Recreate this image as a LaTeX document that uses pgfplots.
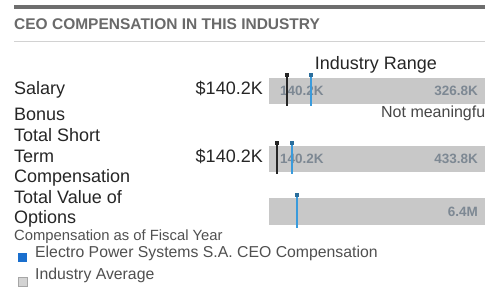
\documentclass[border=0pt]{standalone}
\usepackage{pgfplots}
\pgfplotsset{compat=1.18}
\usepackage{fontspec}
\setmainfont{Liberation Sans}
\definecolor{topline}{HTML}{6E6E6E}
\definecolor{thinline}{HTML}{D2D2D2}
\definecolor{titlec}{HTML}{6A6A6A}
\definecolor{labc}{HTML}{262626}
\definecolor{barg}{HTML}{C8C8C8}
\definecolor{bartxt}{HTML}{7D8893}
\definecolor{mblue}{HTML}{3A9BDC}
\definecolor{mbluecap}{HTML}{2B6E9C}
\definecolor{legblue}{HTML}{1A6FCE}
\definecolor{subc}{HTML}{505050}
\newcommand{\fs}[1]{\fontsize{#1}{#1}\selectfont}
\begin{document}
\begin{tikzpicture}
\path[clip, use as bounding box] (0,0) rectangle (485pt,288pt);
\fill[white] (0,0) rectangle (485pt,288pt);
\begin{axis}[at={(0,0)}, anchor=south west, scale only axis,
  width=485pt, height=288pt, xmin=0, xmax=485, ymin=0, ymax=288,
  y dir=reverse, axis lines=none, clip=false]
% rules
\addplot[topline, line width=4pt] coordinates {(14,7) (490,7)};
\addplot[thinline, line width=1pt] coordinates {(14,41.5) (490,41.5)};
% industry range bars
\addplot[fill=barg, draw=none] coordinates {(269,78) (490,78) (490,104) (269,104)} -- cycle;
\addplot[fill=barg, draw=none] coordinates {(269,146.5) (490,146.5) (490,172) (269,172)} -- cycle;
\addplot[fill=barg, draw=none] coordinates {(269,198) (490,198) (490,225) (269,225)} -- cycle;
% bar texts
\node[anchor=base west, text=bartxt, font=\fs{13.5}\bfseries, inner sep=0] at (axis cs:280,96) {140.2K};
\node[anchor=base east, text=bartxt, font=\fs{13.5}\bfseries, inner sep=0] at (axis cs:478,96) {326.8K};
\node[anchor=base west, text=bartxt, font=\fs{13.5}\bfseries, inner sep=0] at (axis cs:280,164) {140.2K};
\node[anchor=base east, text=bartxt, font=\fs{13.5}\bfseries, inner sep=0] at (axis cs:478,164) {433.8K};
\node[anchor=base east, text=bartxt, font=\fs{13.5}\bfseries, inner sep=0] at (axis cs:478,216.5) {6.4M};
% markers: CEO (black) and industry average (blue)
\addplot[labc, line width=1.6pt] coordinates {(287,74.5) (287,106)};
\addplot[mblue, line width=1.6pt] coordinates {(311,74.5) (311,106)};
\addplot[labc, line width=1.6pt] coordinates {(277,142.5) (277,174)};
\addplot[mblue, line width=1.6pt] coordinates {(292,142.5) (292,174)};
\addplot[mblue, line width=1.6pt] coordinates {(297,194) (297,228)};
\addplot[only marks, mark=square*, mark size=1.6pt, labc] coordinates {(287,75) (277,143)};
\addplot[only marks, mark=square*, mark size=1.6pt, mbluecap] coordinates {(311,75) (292,143) (297,194.5)};
% legend squares
\addplot[fill=legblue, draw=none] coordinates {(18,253) (27,253) (27,262) (18,262)} -- cycle;
\addplot[fill=barg!80!white, draw=gray!70] coordinates {(18,277) (27,277) (27,286) (18,286)} -- cycle;
% texts
\node[anchor=base west, text=titlec, font=\fs{15.5}\bfseries, inner sep=0] at (axis cs:14,30) {CEO COMPENSATION IN THIS INDUSTRY};
\node[anchor=base, text=labc, font=\fs{18}, inner sep=0] at (axis cs:376,70) {Industry Range};
\node[anchor=base west, text=labc, font=\fs{18}, inner sep=0] at (axis cs:14,95) {Salary};
\node[anchor=base east, text=labc, font=\fs{18}, inner sep=0] at (axis cs:263,95) {\$140.2K};
\node[anchor=base west, text=labc, font=\fs{18}, inner sep=0] at (axis cs:14,121) {Bonus};
\node[anchor=base east, text=labc!85, font=\fs{16}, inner sep=0] at (axis cs:489,118) {Not meaningful};
\node[anchor=base west, text=labc, font=\fs{18}, inner sep=0] at (axis cs:14,141.5) {Total Short};
\node[anchor=base west, text=labc, font=\fs{18}, inner sep=0] at (axis cs:14,162.5) {Term};
\node[anchor=base east, text=labc, font=\fs{18}, inner sep=0] at (axis cs:263,162.5) {\$140.2K};
\node[anchor=base west, text=labc, font=\fs{18}, inner sep=0] at (axis cs:14,183) {Compensation};
\node[anchor=base west, text=labc, font=\fs{18}, inner sep=0] at (axis cs:14,203.5) {Total Value of};
\node[anchor=base west, text=labc, font=\fs{18}, inner sep=0] at (axis cs:14,223.5) {Options};
\node[anchor=base west, text=subc, font=\fs{14.8}, inner sep=0] at (axis cs:14,241) {Compensation as of Fiscal Year};
\node[anchor=base west, text=subc, font=\fs{15.8}, inner sep=0] at (axis cs:35,257.5) {Electro Power Systems S.A. CEO Compensation};
\node[anchor=base west, text=subc, font=\fs{15.8}, inner sep=0] at (axis cs:35,279.5) {Industry Average};
\end{axis}
\end{tikzpicture}
\end{document}
